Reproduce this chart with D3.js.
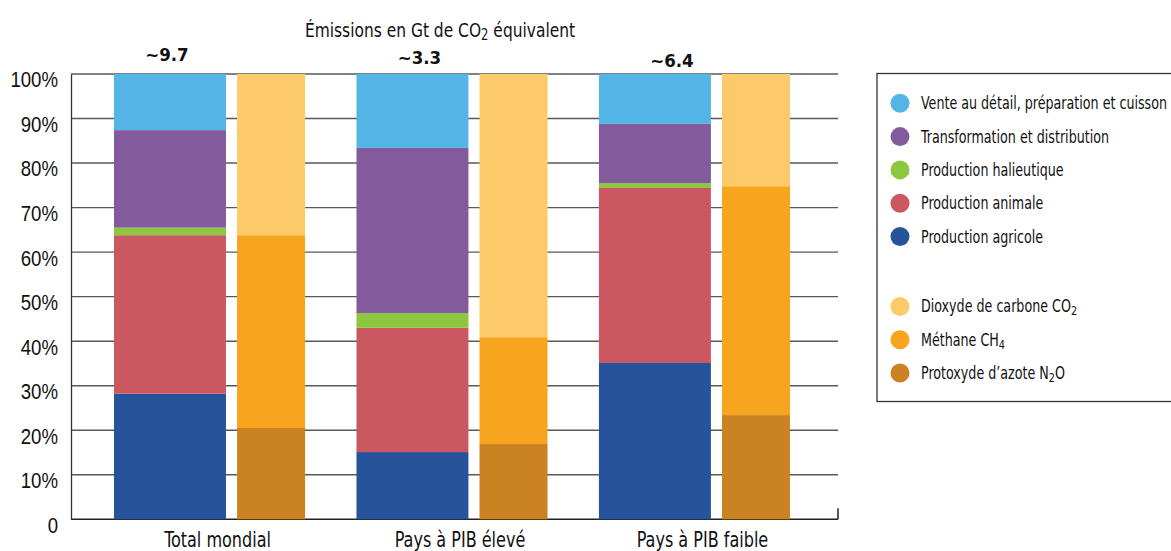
<!DOCTYPE html>
<html lang="fr">
<head>
<meta charset="utf-8">
<script src="https://cdn.jsdelivr.net/npm/d3@7/dist/d3.min.js"></script>
<style>
  html, body { margin: 0; padding: 0; background: #fff; }
  svg { display: block; font-family: "DejaVu Sans Condensed", "DejaVu Sans", sans-serif; }
</style>
</head>
<body>
<svg id="chart" width="1171" height="551"></svg>
<script>
// Groups of countries
const categories = ["Total mondial", "Pays à PIB élevé", "Pays à PIB faible"];
// Total emissions per group (Gt CO2 eq.)
const totals = ["~9.7", "~3.3", "~6.4"];

// Share of emissions by stage of the food chain (%), bottom to top
const sectorNames = [
  "Production agricole",
  "Production animale",
  "Production halieutique",
  "Transformation et distribution",
  "Vente au détail, préparation et cuisson"
];
const agricole       = [28.2, 15.1, 35.1];
const animale        = [35.6, 27.9, 39.3];
const halieutique    = [1.7, 3.3, 1.1];
const transformation = [21.9, 37.1, 13.3];
const vente          = [12.6, 16.6, 11.2];

// Share of emissions by gas (%), bottom to top
const gasNames = ["N2O", "CH4", "CO2"];
const n2o = [20.5, 16.9, 23.4];
const ch4 = [43.3, 24.0, 51.4];
const co2 = [36.2, 59.1, 25.2];

const yTicks = [0, 10, 20, 30, 40, 50, 60, 70, 80, 90, 100];

const sectorColors = ["#27539b", "#cb5860", "#8dc63f", "#835b9c", "#53b5e6"];
const gasColors = ["#cb8223", "#f7a51e", "#fdca69"];

const svg = d3.select("#chart");
const plot = { left: 71, right: 838, top: 74, bottom: 519.3 };

const y = d3.scaleLinear().domain([0, 100]).range([plot.bottom, plot.top]);
const x = d3.scaleBand().domain(categories).range([114, 790]).paddingInner(0.212).paddingOuter(0);
const bw = x.bandwidth();
const sectorW = bw * 0.586;
const gasGap = bw * 0.058;
const gasW = bw - sectorW - gasGap;

// Narrow text: place at (tx, ty) and compress horizontally
function narrow(sel, tx, ty, sx) {
  sel.attr("x", 0).attr("y", 0)
     .attr("transform", function(d, i) {
       const X = typeof tx === "function" ? tx(d, i) : tx;
       const Y = typeof ty === "function" ? ty(d, i) : ty;
       return `translate(${X},${Y}) scale(${sx},1)`;
     });
  return sel;
}

// Horizontal grid
svg.append("g")
  .selectAll("line")
  .data(yTicks.filter(d => d > 0))
  .join("line")
  .attr("x1", plot.left).attr("x2", plot.right)
  .attr("y1", d => y(d)).attr("y2", d => y(d))
  .attr("stroke", "#595959").attr("stroke-width", 1.4);

// Bottom axis line with right end tick
svg.append("line")
  .attr("x1", plot.left).attr("x2", plot.right)
  .attr("y1", y(0)).attr("y2", y(0))
  .attr("stroke", "#222").attr("stroke-width", 1.5);
svg.append("line")
  .attr("x1", plot.right).attr("x2", plot.right)
  .attr("y1", y(0)).attr("y2", y(0) - 11)
  .attr("stroke", "#222").attr("stroke-width", 1.5);

// Left axis
const yAxis = d3.axisLeft(y)
  .tickValues(yTicks)
  .tickSize(0)
  .tickPadding(0)
  .tickFormat(d => d === 0 ? "0" : d + "%");
const ya = svg.append("g").attr("transform", `translate(${plot.left},0)`).call(yAxis);
ya.select(".domain").attr("stroke", "#333").attr("stroke-width", 1.3);
ya.selectAll(".tick text")
  .attr("font-size", 23)
  .attr("fill", "#111")
  .attr("dy", "0.56em")
  .style("font-family", "inherit")
  .attr("x", 0)
  .attr("transform", "translate(-13,0) scale(0.81,1)");

// Stacked bars by sector
const sectorRows = categories.map((c, i) => ({
  cat: c,
  "Production agricole": agricole[i],
  "Production animale": animale[i],
  "Production halieutique": halieutique[i],
  "Transformation et distribution": transformation[i],
  "Vente au détail, préparation et cuisson": vente[i]
}));
const sectorStack = d3.stack().keys(sectorNames)(sectorRows);
svg.append("g")
  .selectAll("g")
  .data(sectorStack)
  .join("g")
  .attr("fill", (d, i) => sectorColors[i])
  .selectAll("rect")
  .data(d => d)
  .join("rect")
  .attr("x", d => x(d.data.cat))
  .attr("width", sectorW)
  .attr("y", d => y(d[1]))
  .attr("height", d => y(d[0]) - y(d[1]));

// Stacked bars by gas
const gasRows = categories.map((c, i) => ({ cat: c, N2O: n2o[i], CH4: ch4[i], CO2: co2[i] }));
const gasStack = d3.stack().keys(gasNames)(gasRows);
svg.append("g")
  .selectAll("g")
  .data(gasStack)
  .join("g")
  .attr("fill", (d, i) => gasColors[i])
  .selectAll("rect")
  .data(d => d)
  .join("rect")
  .attr("x", d => x(d.data.cat) + sectorW + gasGap)
  .attr("width", gasW)
  .attr("y", d => y(d[1]))
  .attr("height", d => y(d[0]) - y(d[1]));

// Category labels
narrow(
  svg.append("g")
    .selectAll("text")
    .data(categories)
    .join("text")
    .attr("text-anchor", "middle")
    .attr("font-size", 20.5)
    .attr("fill", "#111")
    .text(d => d),
  d => x(d) + bw / 2 + 8, 547, 0.87);

// Title
const title = narrow(svg.append("text")
  .attr("text-anchor", "middle")
  .attr("font-size", 20)
  .attr("fill", "#111"), 440, 37, 0.86);
title.append("tspan").text("Émissions en Gt de CO");
title.append("tspan").attr("font-size", 15).attr("dy", 3).text("2");
title.append("tspan").attr("dy", -3).text(" équivalent");

// Totals above each group
svg.append("g")
  .selectAll("text")
  .data(categories)
  .join("text")
  .attr("x", (d, i) => x(d) + sectorW / 2 + 10 * i - 3)
  .attr("y", (d, i) => 61 + 3 * i)
  .attr("text-anchor", "middle")
  .attr("font-size", 18.5)
  .attr("font-weight", "bold")
  .attr("fill", "#111")
  .text((d, i) => totals[i]);

// Legend
const legend = svg.append("g");
legend.append("rect")
  .attr("x", 877).attr("y", 73.5)
  .attr("width", 320).attr("height", 328)
  .attr("fill", "#fff")
  .attr("stroke", "#333").attr("stroke-width", 1.3);

const legendSectors = sectorNames.slice().reverse().map((n, i) => ({
  label: [[n, false]], color: sectorColors[sectorColors.length - 1 - i], row: i
}));
const legendGases = [
  { label: [["Dioxyde de carbone CO", false], ["2", true]], color: gasColors[2], row: 6.1 },
  { label: [["Méthane CH", false], ["4", true]], color: gasColors[1], row: 7.1 },
  { label: [["Protoxyde d\u2019azote N", false], ["2", true], ["O", false]], color: gasColors[0], row: 8.1 }
];
const rowY = r => 103.3 + r * 33.3;

const items = legend.selectAll("g.item")
  .data(legendSectors.concat(legendGases))
  .join("g")
  .attr("class", "item")
  .attr("transform", d => `translate(0,${rowY(d.row)})`);
items.append("circle")
  .attr("cx", 900).attr("cy", 0).attr("r", 9.5)
  .attr("fill", d => d.color);
narrow(items.append("text")
  .attr("font-size", 17)
  .attr("fill", "#111"), 921, 6, 0.83)
  .each(function(d) {
    const t = d3.select(this);
    let afterSub = false;
    d.label.forEach(([s, sub]) => {
      if (sub) {
        t.append("tspan").attr("font-size", 13).attr("dy", 3).text(s);
        afterSub = true;
      } else {
        const sp = t.append("tspan").text(s);
        if (afterSub) sp.attr("dy", -3);
        afterSub = false;
      }
    });
  });
</script>
</body>
</html>
